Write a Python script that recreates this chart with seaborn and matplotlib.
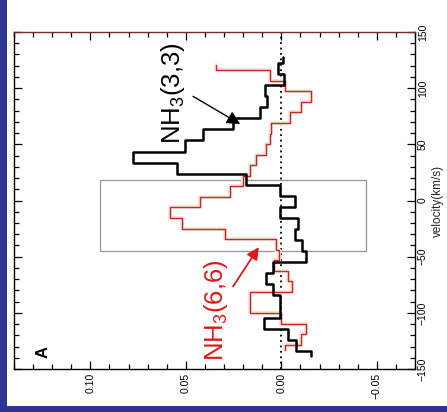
import numpy as np
import pandas as pd
import matplotlib
matplotlib.use("Agg")
import matplotlib.pyplot as plt
from matplotlib.patches import Rectangle
import seaborn as sns

# Channel velocities (km/s) and line flux densities for the two ammonia lines
vel_33 = [127.3, 117.5, 107.6, 97.8, 87.9, 78.1, 68.2, 58.4, 48.5, 38.7,
          28.8, 19.0, 9.1, -0.8, -10.6, -20.5, -30.3, -40.2, -50.0, -59.9,
          -69.7, -79.6, -89.4, -99.3, -109.1, -119.0, -128.8, -138.7]
flux_33 = [-0.0009, 0.0017, -0.0012, 0.0087, 0.0073, 0.0113, 0.0253, 0.0410,
           0.0506, 0.0776, 0.0549, 0.0183, 0.0009, -0.0070, 0.0009, -0.0087,
           -0.0070, -0.0110, -0.0131, 0.0044, 0.0078, 0.0044, 0.0009, 0.0009,
           0.0091, -0.0037, -0.0078, -0.0157]

vel_66 = [120.6, 111.2, 101.8, 92.4, 83.0, 73.7, 64.3, 54.9, 45.5, 36.1,
          26.7, 17.3, 7.9, -1.5, -10.9, -20.3, -29.6, -39.0, -48.4, -57.8,
          -67.2, -76.6, -86.0, -95.4, -104.8, -114.2, -123.6, -133.0]
flux_66 = [0.0343, 0.0061, -0.0017, -0.0157, -0.0105, -0.0044, 0.0052, 0.0061,
           0.0082, 0.0131, 0.0166, 0.0200, 0.0270, 0.0427, 0.0584, 0.0518,
           0.0296, 0.0026, 0.0012, 0.0040, -0.0035, -0.0058, 0.0162, 0.0162,
           0.0000, -0.0131, -0.0105, -0.0017]

# Velocity window marked on the spectrum
box_vel = [-44.6, 18.4]
box_flux = [-0.0445, 0.0950]

flux_ticks = [0.10, 0.05, 0.00, -0.05]
vel_ticks = [150, 100, 50, 0, -50, -100, -150]


def step_path(vel, flux):
    """Histogram-style path: each channel is a constant-flux segment
    between mid-points of neighbouring channels (half channels at the ends)."""
    v = np.asarray(vel, float)
    f = np.asarray(flux, float)
    mids = (v[:-1] + v[1:]) / 2.0
    lo = np.concatenate([[v[0]], mids])
    hi = np.concatenate([mids, [v[-1]]])
    vv = np.column_stack([lo, hi]).ravel()
    ff = np.repeat(f, 2)
    return pd.DataFrame({"flux": ff, "velocity": vv})


sns.set_style("ticks")
plt.rcParams["font.family"] = ["Liberation Sans", "DejaVu Sans"]
plt.rcParams["axes.unicode_minus"] = True

fig = plt.figure(figsize=(4.47, 4.12), dpi=100)
fig.patch.set_facecolor("#2b3592")
fig.patches.append(Rectangle((7 / 447, 6 / 412), 1, 1, transform=fig.transFigure,
                             facecolor="white", edgecolor="none", zorder=-10))

ax = fig.add_axes([14 / 447, 43 / 412, 401 / 447, 337 / 412])
ax.set_zorder(5)
ax.set_facecolor("white")

# velocity window box
ax.add_patch(Rectangle((box_flux[0], box_vel[0]), box_flux[1] - box_flux[0],
                       box_vel[1] - box_vel[0], fill=False, ec="#959595",
                       lw=0.9, zorder=1))

# zero-flux reference
ax.axvline(0.0, color="black", ls=(0, (1, 2)), lw=1.3, zorder=2)

d66 = step_path(vel_66, flux_66)
d33 = step_path(vel_33, flux_33)

sns.lineplot(data=d66, x="flux", y="velocity", sort=False, estimator=None,
             color="#efe9dd", lw=3.0, ax=ax, zorder=3)
sns.lineplot(data=d66, x="flux", y="velocity", sort=False, estimator=None,
             color="#cf2424", lw=1.0, ax=ax, zorder=4)
sns.lineplot(data=d33, x="flux", y="velocity", sort=False, estimator=None,
             color="black", lw=1.8, ax=ax, zorder=5)

ax.set_xlim(0.14, -0.07)
ax.set_ylim(-150, 150)

ax.set_xticks(flux_ticks)
ax.set_xticklabels([f"{t:.2f}".replace("-", "\u2212") for t in flux_ticks])
ax.set_xticks(np.arange(-0.07, 0.1401, 0.01), minor=True)
ax.set_yticks(vel_ticks)
ax.set_yticklabels([str(t).replace("-", "\u2212") for t in vel_ticks])
ax.set_yticks(np.arange(-150, 151, 10), minor=True)

ax.tick_params(which="both", direction="in", top=True, bottom=True,
               left=True, right=True, labelleft=False, labelright=True,
               labelbottom=True, labeltop=False, labelrotation=90,
               labelsize=7.5, colors="black", width=0.9)
ax.tick_params(which="major", length=6)
ax.tick_params(which="minor", length=3.5)
ax.tick_params(axis="x", pad=2.5)
ax.tick_params(axis="y", pad=2)
for lab in ax.get_yticklabels():
    lab.set_verticalalignment("center")

ax.set_xlabel("")
ax.yaxis.set_label_position("right")
ax.set_ylabel("velocity(km/s)", fontsize=8.5, rotation=90, labelpad=3)

for side in ["left", "bottom", "right"]:
    ax.spines[side].set_color("black")
    ax.spines[side].set_linewidth(1.0)
ax.spines["top"].set_color("#7a2c2c")
ax.spines["top"].set_linewidth(1.0)

# line labels with pointers
ax.text(0.0567, 95.5, "NH$_\\mathregular{3}$(3,3)", rotation=90, fontsize=18.5,
        ha="center", va="center", color="black")
ax.annotate("", xy=(0.0215, 68.0), xytext=(0.0462, 92.7),
            arrowprops=dict(arrowstyle="-|>", color="black", lw=1.0,
                            mutation_scale=20, shrinkA=0, shrinkB=0))

ax.text(0.0340, -98.0, "NH$_\\mathregular{3}$(6,6)", rotation=90, fontsize=18.5,
        ha="center", va="center", color="#e01818")
ax.annotate("", xy=(0.0118, -41.5), xytext=(0.0253, -76.6),
            arrowprops=dict(arrowstyle="-|>", color="#e01818", lw=1.3,
                            mutation_scale=18, shrinkA=0, shrinkB=0))

ax.text(0.1248, -135.0, "A", rotation=90, fontsize=12, fontweight="bold",
        ha="center", va="center", color="black")

fig.savefig("out.png", dpi=100, facecolor=fig.get_facecolor())
